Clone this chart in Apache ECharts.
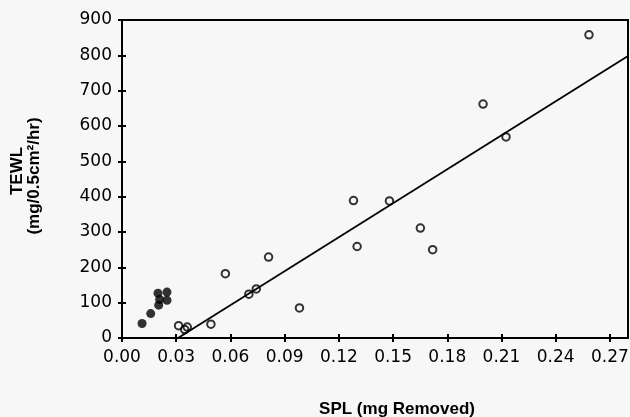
<!DOCTYPE html>
<html>
<head>
<meta charset="utf-8">
<script src="https://cdn.jsdelivr.net/npm/echarts@6/dist/echarts.min.js"></script>
<style>
  html, body { margin: 0; padding: 0; background: #f7f7f7; }
  #main { width: 630px; height: 417px; }
</style>
</head>
<body>
<div id="main"></div>
<script>
// tick labels
var xTicks = [0, 0.03, 0.06, 0.09, 0.12, 0.15, 0.18, 0.21, 0.24, 0.27];

// filled circles
var filledSPL = [0.0111, 0.0159, 0.0199, 0.0249, 0.0208, 0.0249, 0.0203];
var filledTEWL = [41, 69, 127, 130, 109, 107, 93];

// open circles
var openSPL = [0.0313, 0.0347, 0.0361, 0.0492, 0.0572, 0.0702, 0.0743, 0.0811,
  0.0982, 0.1281, 0.1301, 0.1480, 0.1651, 0.1719, 0.1998, 0.2125, 0.2584];
var openTEWL = [35, 24, 31, 39, 182, 124, 139, 229,
  85, 389, 259, 388, 311, 250, 662, 569, 858];

// regression line ends
var fitSPL = [0.031, 0.28];
var fitTEWL = [0, 798];

function pairs(xs, ys) {
  return xs.map(function (x, i) { return [x, ys[i]]; });
}

var myChart = echarts.init(document.getElementById('main'));

var black = '#000';
var labelFont = {
  color: black,
  fontFamily: 'DejaVu Sans',
  fontSize: 17
};

var option = {
  animation: false,
  backgroundColor: '#f7f7f7',
  grid: {
    left: 122, right: 2, top: 20, bottom: 79,
    show: true,
    borderColor: black,
    borderWidth: 2,
    outerBoundsMode: 'none'
  },
  xAxis: [{
    type: 'value',
    position: 'bottom',
    min: 0, max: 0.28,
    splitLine: { show: false },
    axisLine: { lineStyle: { color: black, width: 2 } },
    axisTick: { length: 4, lineStyle: { color: black, width: 2 }, customValues: xTicks },
    axisLabel: Object.assign({
      margin: 11,
      customValues: xTicks,
      formatter: function (v) { return v.toFixed(2); }
    }, labelFont)
  }, {
    type: 'value',
    position: 'bottom',
    min: 0, max: 0.28,
    splitLine: { show: false },
    axisLine: { show: false },
    axisTick: { inside: true, length: 4, lineStyle: { color: black, width: 2 }, customValues: xTicks },
    axisLabel: { show: false }
  }],
  yAxis: [{
    type: 'value',
    position: 'left',
    min: 0, max: 900, interval: 100,
    splitLine: { show: false },
    axisLine: { lineStyle: { color: black, width: 2 } },
    axisTick: { length: 4, lineStyle: { color: black, width: 2 } },
    axisLabel: Object.assign({ margin: 10 }, labelFont)
  }, {
    type: 'value',
    position: 'left',
    min: 0, max: 900, interval: 100,
    splitLine: { show: false },
    axisLine: { show: false },
    axisTick: { inside: true, length: 4, lineStyle: { color: black, width: 2 } },
    axisLabel: { show: false }
  }],
  graphic: [
    {
      type: 'text', x: 397, y: 409,
      style: { text: 'SPL (mg Removed)', fill: black, fontFamily: 'Liberation Sans',
        fontWeight: 'bold', fontSize: 17, align: 'center', verticalAlign: 'middle' }
    },
    {
      type: 'text', x: 17, y: 171, rotation: Math.PI / 2,
      style: { text: 'TEWL', fill: black, fontFamily: 'Liberation Sans',
        fontWeight: 'bold', fontSize: 17, align: 'center', verticalAlign: 'middle' }
    },
    {
      type: 'text', x: 34, y: 176, rotation: Math.PI / 2,
      style: { text: '(mg/0.5cm²/hr)', fill: black, fontFamily: 'Liberation Sans',
        fontWeight: 'bold', fontSize: 17, align: 'center', verticalAlign: 'middle' }
    }
  ],
  series: [{
    type: 'line',
    data: pairs(fitSPL, fitTEWL),
    symbol: 'none',
    lineStyle: { color: black, width: 1.8 },
    z: 1
  }, {
    type: 'scatter',
    data: pairs(openSPL, openTEWL),
    symbol: 'circle',
    symbolSize: 7.5,
    itemStyle: { color: 'transparent', borderColor: black, borderWidth: 2 },
    z: 2
  }, {
    type: 'scatter',
    data: pairs(filledSPL, filledTEWL),
    symbol: 'circle',
    symbolSize: 9,
    itemStyle: { color: black },
    z: 3
  }]
};

myChart.setOption(option);
</script>
</body>
</html>
